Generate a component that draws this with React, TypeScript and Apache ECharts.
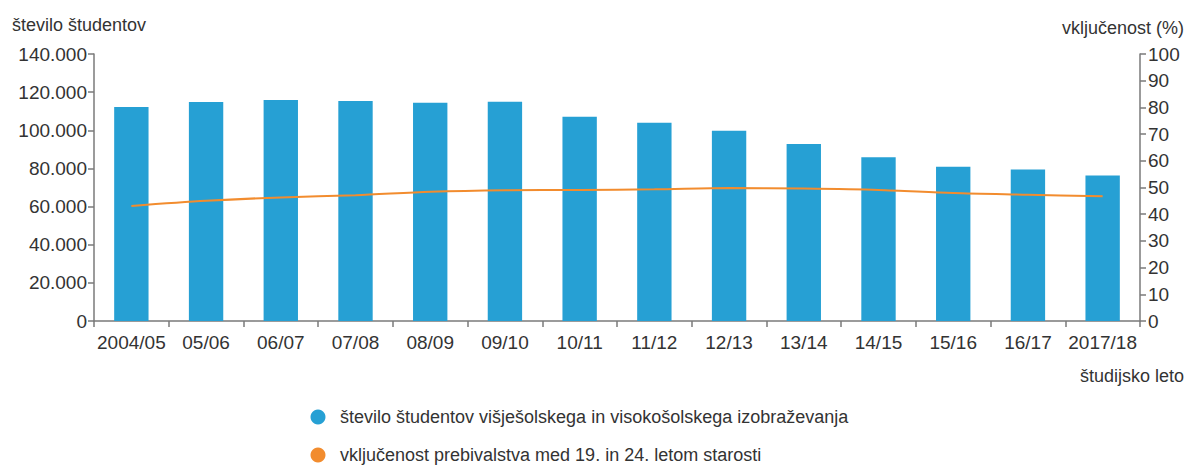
import React, { useEffect, useRef } from "react";
import * as echarts from "echarts";

const categories = ["2004/05", "05/06", "06/07", "07/08", "08/09", "09/10", "10/11", "11/12", "12/13", "13/14", "14/15", "15/16", "16/17", "2017/18"];
const students = [112200, 114800, 115900, 115400, 114400, 114900, 107100, 104000, 99800, 92800, 85900, 80900, 79500, 76300];
const inclusion = [43.1, 45.0, 46.3, 47.1, 48.4, 49.0, 49.1, 49.3, 49.8, 49.6, 49.1, 47.9, 47.3, 46.7];
const leftTicks = { min: 0, max: 140000, interval: 20000 };
const rightTicks = { min: 0, max: 100, interval: 10 };
const seriesNames = [
  "število študentov višješolskega in visokošolskega izobraževanja",
  "vključenost prebivalstva med 19. in 24. letom starosti",
];
const seriesColors = ["#26a0d4", "#f28c2e"];

const FONT = "'Liberation Sans', Arial, sans-serif";
const TXT = "#333333";
const AX = "#7a7a7a";
const TICK_FS = 19;
const TITLE_FS = 18;
const LEGEND_FS = 18;

function fmtThousands(v: number): string {
  if (v === 0) return "0";
  const s = String(Math.round(v));
  return s.replace(/\B(?=(\d{3})+(?!\d))/g, ".");
}

export default function App() {
  const ref = useRef<HTMLDivElement>(null);
  useEffect(() => {
    if (!ref.current) return;
    const chart = echarts.init(ref.current, undefined, { renderer: "svg" });
    const legendY = [417, 455];
    const legendGraphics: any[] = [];
    seriesNames.forEach((name, i) => {
      legendGraphics.push({
        type: "circle",
        shape: { cx: 318, cy: legendY[i], r: 7.5 },
        style: { fill: seriesColors[i] },
      });
      legendGraphics.push({
        type: "text",
        x: 340,
        y: legendY[i],
        style: { text: name, fontSize: LEGEND_FS, fontFamily: FONT, fill: TXT, textAlign: "left", textVerticalAlign: "middle" },
      });
    });
    chart.setOption({
      animation: false,
      backgroundColor: "#ffffff",
      textStyle: { fontFamily: FONT, color: TXT },
      grid: { left: 94, right: 50, top: 54, bottom: 146, containLabel: false },
      xAxis: {
        type: "category",
        data: categories,
        boundaryGap: true,
        axisLine: { lineStyle: { color: AX, width: 1.5 } },
        axisTick: { show: true, length: 6, lineStyle: { color: AX, width: 1.5 } },
        axisLabel: { color: TXT, fontSize: TICK_FS, fontFamily: FONT, margin: 12, interval: 0 },
      },
      yAxis: [
        {
          type: "value",
          min: leftTicks.min,
          max: leftTicks.max,
          interval: leftTicks.interval,
          position: "left",
          axisLine: { show: true, lineStyle: { color: AX, width: 1.5 } },
          axisTick: { show: true, length: 6, lineStyle: { color: AX, width: 1.5 } },
          splitLine: { show: false },
          axisLabel: { color: TXT, fontSize: TICK_FS, fontFamily: FONT, margin: 7, formatter: fmtThousands },
        },
        {
          type: "value",
          min: rightTicks.min,
          max: rightTicks.max,
          interval: rightTicks.interval,
          position: "right",
          axisLine: { show: true, lineStyle: { color: AX, width: 1.5 } },
          axisTick: { show: true, length: 6, lineStyle: { color: AX, width: 1.5 } },
          splitLine: { show: false },
          axisLabel: { color: TXT, fontSize: TICK_FS, fontFamily: FONT, margin: 8 },
        },
      ],
      series: [
        {
          name: seriesNames[0],
          type: "bar",
          data: students,
          yAxisIndex: 0,
          barWidth: "46%",
          itemStyle: { color: seriesColors[0] },
        },
        {
          name: seriesNames[1],
          type: "line",
          data: inclusion,
          yAxisIndex: 1,
          smooth: 0.3,
          showSymbol: false,
          symbol: "circle",
          lineStyle: { color: seriesColors[1], width: 2 },
          itemStyle: { color: seriesColors[1] },
        },
      ],
      graphic: [
        {
          type: "text",
          x: 12,
          y: 25,
          style: { text: "število študentov", fontSize: TITLE_FS, fontFamily: FONT, fill: TXT, textAlign: "left", textVerticalAlign: "middle" },
        },
        {
          type: "text",
          x: 1184,
          y: 28,
          style: { text: "vključenost (%)", fontSize: TITLE_FS, fontFamily: FONT, fill: TXT, textAlign: "right", textVerticalAlign: "middle" },
        },
        {
          type: "text",
          x: 1184,
          y: 376,
          style: { text: "študijsko leto", fontSize: TITLE_FS, fontFamily: FONT, fill: TXT, textAlign: "right", textVerticalAlign: "middle" },
        },
        ...legendGraphics,
      ],
    });
    return () => chart.dispose();
  }, []);
  return <div ref={ref} style={{ position: "fixed", left: 0, top: 0, width: 1190, height: 467 }} />;
}
